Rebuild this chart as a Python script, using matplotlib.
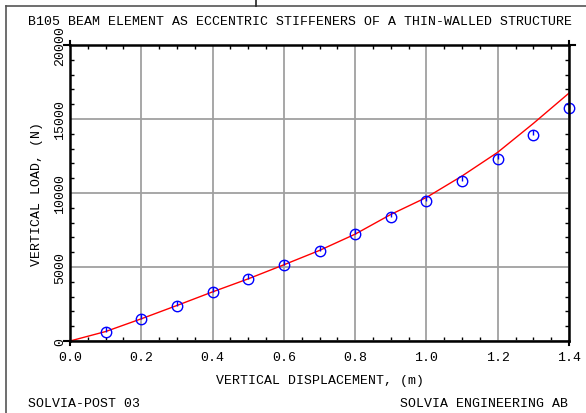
import matplotlib
matplotlib.use("Agg")
import matplotlib.pyplot as plt
from matplotlib.path import Path
from matplotlib.ticker import MultipleLocator

# solution points (blue circles)
disp_pts = [0.1, 0.2, 0.3, 0.4, 0.5, 0.6, 0.7, 0.8, 0.9, 1.0, 1.1, 1.2, 1.3, 1.4]
load_pts = [630, 1490, 2390, 3330, 4170, 5135, 6080, 7230, 8400, 9480, 10790, 12300, 13940, 15720]

# reference curve (red line)
disp_ref = [0.0, 0.1, 0.2, 0.3, 0.4, 0.5, 0.6, 0.7, 0.8, 0.9, 1.0, 1.1, 1.2, 1.3, 1.4]
load_ref = [0, 640, 1500, 2400, 3320, 4200, 5150, 6120, 7220, 8550, 9700, 11150, 12750, 14700, 16750]

title = "B105 BEAM ELEMENT AS ECCENTRIC STIFFENERS OF A THIN-WALLED STRUCTURE"
xlab = "VERTICAL DISPLACEMENT, (m)"
ylab = "VERTICAL LOAD, (N)"

plt.rcParams['font.family'] = ['Liberation Mono', 'DejaVu Sans Mono']
fs = 9.5

fig = plt.figure(figsize=(5.86, 4.14), dpi=100)
ax = fig.add_axes([70/586, 72/414, 499/586, 296/414])

ax.plot(disp_ref, load_ref, color='red', lw=1.0, zorder=3, clip_on=False)

# circle with a stroke from centre up
mk = Path.make_compound_path(Path.unit_circle(),
                             Path([[0, 0], [0, 1]], [Path.MOVETO, Path.LINETO]))
ax.plot(disp_pts, load_pts, ls='none', marker=mk, ms=7.5, mfc='none',
        mec='blue', mew=1.0, zorder=4, clip_on=False)

ax.set_xlim(0, 1.4)
ax.set_ylim(0, 20000)
ax.xaxis.set_minor_locator(MultipleLocator(0.05))
ax.yaxis.set_minor_locator(MultipleLocator(1000))
ax.set_xticks([0, 0.2, 0.4, 0.6, 0.8, 1.0, 1.2, 1.4])
ax.set_xticklabels(["0.0", "0.2", "0.4", "0.6", "0.8", "1.0", "1.2", "1.4"])
ax.set_yticks([0, 5000, 10000, 15000, 20000])
ax.set_yticklabels(["0", "5000", "10000", "15000", "20000"], rotation=90, va='center')

ax.grid(True, which='major', color='#a0a0a0', lw=1.3)
ax.tick_params(which='major', length=0, labelsize=fs, pad=7)
ax.tick_params(which='minor', direction='in', length=3, width=1, top=True, right=True)
ax.tick_params(axis='y', which='major', pad=3)
for s in ax.spines.values():
    s.set_linewidth(1.8)
    s.set_zorder(5)

# small overhang of the spines at the corners
for (x0, y0, x1, y1) in [(-0.012, 0, 0, 0), (-0.012, 1, 0, 1), (1, 1, 1.012, 1),
                         (0, -0.015, 0, 0), (1, -0.015, 1, 0), (0, 1, 0, 1.015), (1, 1, 1, 1.015)]:
    ax.plot([x0, x1], [y0, y1], color='black', lw=1.5, transform=ax.transAxes, clip_on=False)

ax.set_xlabel(xlab, fontsize=fs, labelpad=8)
ax.set_ylabel(ylab, fontsize=fs, labelpad=8)

fig.text(28/586, 1 - 22/414, title, fontsize=fs, ha='left', va='center')
fig.text(28/586, 1 - 404/414, "SOLVIA-POST 03", fontsize=fs, ha='left', va='center')
fig.text(568/586, 1 - 404/414, "SOLVIA ENGINEERING AB", fontsize=fs, ha='right', va='center')

# page frame
fig.add_artist(plt.Line2D([6/586, 6/586], [0, 1 - 7/414], color='#555555', lw=1.2))
fig.add_artist(plt.Line2D([6/586, 1], [1 - 7/414, 1 - 7/414], color='#555555', lw=1.2))
fig.add_artist(plt.Line2D([256/586, 256/586], [1 - 7/414, 1], color='#222222', lw=1.2))

fig.savefig("out.png", dpi=100)
